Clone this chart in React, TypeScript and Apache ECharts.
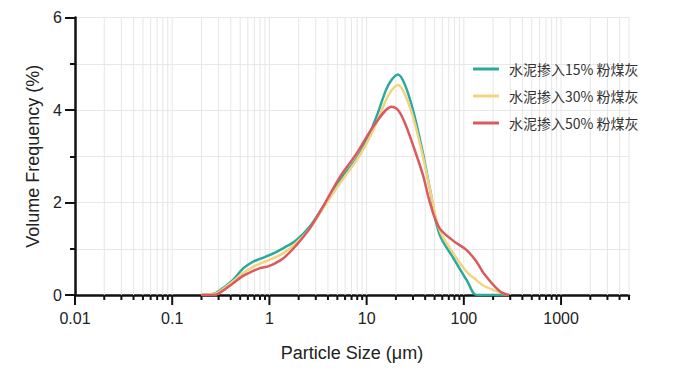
import React, { useEffect, useRef } from "react";
import * as echarts from "echarts";

// Particle size (μm)
const sizes = [0.2, 0.26, 0.3, 0.42, 0.54, 0.68, 0.8, 1.0, 1.38, 1.9, 2.6, 3.56, 5.3, 7.9, 10, 12.6, 15.8, 18, 21, 24.5, 30, 38, 45, 56, 78, 107, 135, 160, 234, 290];
// Volume frequency (%)
const fa15 = [0, 0.02, 0.08, 0.32, 0.58, 0.72, 0.78, 0.86, 1.01, 1.19, 1.48, 1.91, 2.48, 2.95, 3.35, 3.85, 4.43, 4.65, 4.77, 4.57, 4.0, 3.06, 2.27, 1.32, 0.8, 0.32, 0.0, 0, 0, 0];
const fa30 = [0, 0.02, 0.06, 0.29, 0.48, 0.61, 0.68, 0.76, 0.9, 1.13, 1.44, 1.87, 2.41, 2.92, 3.28, 3.71, 4.21, 4.42, 4.54, 4.36, 3.85, 2.99, 2.27, 1.42, 0.9, 0.5, 0.32, 0.2, 0.06, 0];
const fa50 = [0, 0, 0.03, 0.25, 0.42, 0.52, 0.58, 0.63, 0.79, 1.08, 1.44, 1.91, 2.55, 3.06, 3.42, 3.74, 4.0, 4.07, 4.0, 3.74, 3.24, 2.59, 1.98, 1.45, 1.17, 0.97, 0.72, 0.47, 0.08, 0];

const seriesNames = ["水泥掺入15% 粉煤灰", "水泥掺入30% 粉煤灰", "水泥掺入50% 粉煤灰"];
const seriesColors = ["#2aa99c", "#f2d47e", "#da5a5f"];

// log axis structure
const decades = [0.01, 0.1, 1, 10, 100, 1000];
const multipliers = [2, 3, 4, 5, 6, 7, 8, 9];
const xMaxSize = 5000;
const yTicks = [0, 2, 4, 6];

export default function App() {
  const ref = useRef<HTMLDivElement>(null);
  useEffect(() => {
    if (!ref.current) return;
    const chart = echarts.init(ref.current, null, { renderer: "svg" });
    const lg = (v: number) => Math.log10(v);
    const tickData: number[][] = [];
    decades.forEach((d) => {
      tickData.push([lg(d), 1]);
      multipliers.forEach((m) => {
        const v = d * m;
        if (v <= xMaxSize + 1e-9) tickData.push([lg(v), 0]);
      });
    });
    const mk = (vals: number[]) => sizes.map((s, i) => [lg(s), vals[i]]);
    const all = [fa15, fa30, fa50];
    const font = "'Liberation Sans', Arial, sans-serif";
    chart.setOption({
      animation: false,
      grid: { left: 75, right: 64, top: 17.5, bottom: 77 },
      legend: {
        orient: "vertical",
        left: 468,
        top: 57,
        itemWidth: 26,
        itemHeight: 3,
        itemGap: 13,
        icon: "rect",
        data: seriesNames,
        textStyle: {
          fontSize: 14,
          color: "#333",
          fontFamily: "'Noto Sans CJK SC', sans-serif",
          padding: [0, 0, 0, 5],
        },
      },
      xAxis: {
        type: "value",
        min: -2,
        max: lg(xMaxSize),
        interval: 1,
        name: "Particle Size (μm)",
        nameLocation: "middle",
        nameGap: 49,
        nameTextStyle: { fontSize: 18, color: "#222", fontFamily: font },
        axisLine: { onZero: false, lineStyle: { color: "#111", width: 2.5 } },
        axisTick: { show: false },
        splitLine: { show: false },
        axisLabel: {
          margin: 15,
          fontSize: 16,
          color: "#222",
          fontFamily: font,
          showMaxLabel: false,
          formatter: (v: number) => {
            const p = Math.round(v);
            if (Math.abs(v - p) > 1e-6) return "";
            return p < 0 ? Math.pow(10, p).toFixed(-p) : String(Math.pow(10, p));
          },
        },
      },
      yAxis: {
        type: "value",
        min: 0,
        max: 6,
        interval: 2,
        name: "Volume Frequency (%)",
        nameLocation: "middle",
        nameGap: 33,
        nameTextStyle: { fontSize: 18, color: "#222", fontFamily: font },
        axisLine: { show: true, onZero: false, lineStyle: { color: "#111", width: 2.5 } },
        axisTick: { show: true, length: 10, lineStyle: { color: "#111", width: 2 } },
        minorTick: { show: true, splitNumber: 2, length: 5, lineStyle: { color: "#111", width: 2 } },
        splitLine: { show: true, lineStyle: { color: "#e8e8e8", width: 1 } },
        minorSplitLine: { show: true, lineStyle: { color: "#e8e8e8", width: 1 } },
        axisLabel: {
          margin: 13,
          fontSize: 16,
          color: "#222",
          fontFamily: font,
          formatter: (v: number) => (yTicks.indexOf(v) >= 0 ? String(v) : ""),
        },
      },
      series: [
        {
          type: "custom",
          silent: true,
          z: 1,
          clip: false,
          data: tickData,
          renderItem: (params: any, api: any) => {
            const cs = params.coordSys;
            const v = api.value(0);
            const x = api.coord([v, 0])[0];
            const major = api.value(1) === 1;
            const bottom = cs.y + cs.height;
            const children: any[] = [];
            if (v > -2 + 1e-6) {
              children.push({
                type: "line",
                shape: { x1: x, y1: cs.y, x2: x, y2: bottom },
                style: { stroke: "#e6e6e6", lineWidth: 1 },
              });
            }
            children.push({
              type: "line",
              shape: { x1: x, y1: bottom, x2: x, y2: bottom + (major ? 10 : 5) },
              style: { stroke: "#111", lineWidth: 2 },
            });
            return { type: "group", children };
          },
        },
        ...all.map((vals, i) => ({
          name: seriesNames[i],
          type: "line",
          z: 3,
          smooth: 0.35,
          symbol: "none",
          data: mk(vals),
          lineStyle: { color: seriesColors[i], width: 2.5 },
          itemStyle: { color: seriesColors[i] },
        })),
      ],
    });
    return () => chart.dispose();
  }, []);
  return <div ref={ref} style={{ position: "absolute", left: 0, top: 0, width: 693, height: 372 }} />;
}
